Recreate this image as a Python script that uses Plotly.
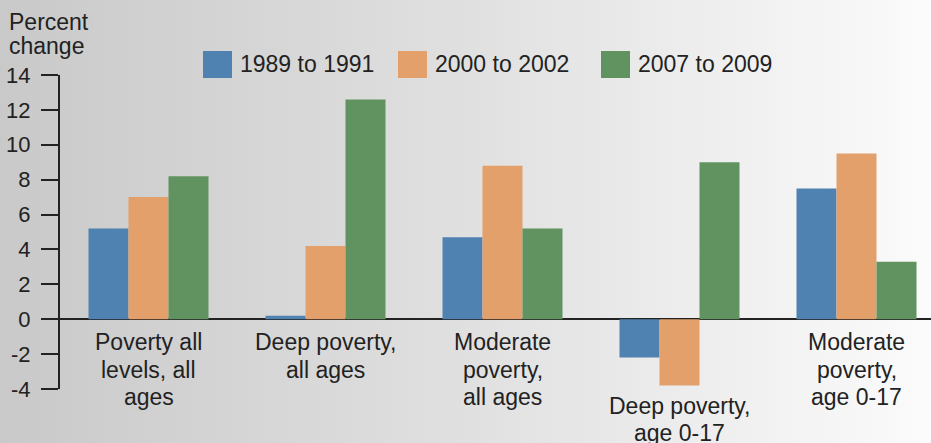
import base64
import plotly.graph_objects as go

categories = ["Poverty all levels, all ages", "Deep poverty, all ages",
              "Moderate poverty, all ages", "Deep poverty, age 0-17",
              "Moderate poverty, age 0-17"]
category_labels = ["Poverty all<br>levels, all<br>ages", "Deep poverty,<br>all ages",
                   "Moderate<br>poverty,<br>all ages", "Deep poverty,<br>age 0-17",
                   "Moderate<br>poverty,<br>age 0-17"]
series_names = ["1989 to 1991", "2000 to 2002", "2007 to 2009"]
v_1989_1991 = [5.2, 0.2, 4.7, -2.2, 7.5]
v_2000_2002 = [7.0, 4.2, 8.8, -3.8, 9.5]
v_2007_2009 = [8.2, 12.6, 5.2, 9.0, 3.3]
y_ticks = [-4, -2, 0, 2, 4, 6, 8, 10, 12, 14]
y_tick_labels = ["-4", "-2", "0", "2", "4", "6", "8", "10", "12", "14"]
y_title = "Percent<br>change"

colors = ["#4f82b1", "#e3a06a", "#619361"]
W, H = 931, 443
L, R, T, B = 60, 0, 75, 54
pw, ph = W - L - R, H - T - B
FONT = "Liberation Sans, Arial, sans-serif"
TXT = "#222222"
Y0, Y1 = -4, 14
LINE = 27.5

def px_x(x):
    return (x - L) / pw

def px_y(y):
    return (H - B - y) / ph

def val_to_px(v):
    return T + (Y1 - v) / (Y1 - Y0) * ph

fig = go.Figure()
for name, vals, c in zip(series_names, [v_1989_1991, v_2000_2002, v_2007_2009], colors):
    fig.add_trace(go.Bar(x=categories, y=vals, name=name, marker=dict(color=c, line=dict(width=0)),
                         showlegend=False))

# background gradient
svg = ('<svg xmlns="http://www.w3.org/2000/svg" width="931" height="443" viewBox="0 0 931 443" preserveAspectRatio="none">'
       '<defs><linearGradient id="g" x1="0" y1="0" x2="1" y2="0">'
       '<stop offset="0" stop-color="#c9c9c9"/><stop offset="0.5" stop-color="#e0e0e0"/>'
       '<stop offset="1" stop-color="#fbfbfb"/></linearGradient></defs>'
       '<rect width="931" height="443" fill="url(#g)"/></svg>')
src = "data:image/svg+xml;base64," + base64.b64encode(svg.encode()).decode()

annotations = []
shapes = []
# category labels (one annotation per line for tight line spacing)
for i, (cat, lab) in enumerate(zip(categories, category_labels)):
    neg = min(v_1989_1991[i], v_2000_2002[i], v_2007_2009[i])
    first = val_to_px(0) + 23 if neg >= 0 else val_to_px(neg) + 20
    for j, line in enumerate(lab.split("<br>")):
        annotations.append(dict(x=cat, y=px_y(first + j * LINE), xref="x", yref="paper", text=line,
                                showarrow=False, yanchor="middle", xanchor="center",
                                font=dict(family=FONT, size=23, color=TXT)))
# y title
for j, line in enumerate(y_title.split("<br>")):
    annotations.append(dict(x=px_x(7), y=px_y(22 + j * 24), xref="paper", yref="paper", text=line,
                            showarrow=False, xanchor="left", yanchor="middle",
                            font=dict(family=FONT, size=23, color=TXT)))
# manual legend
leg_x = [203, 398, 601]
for name, c, lx in zip(series_names, colors, leg_x):
    shapes.append(dict(type="rect", xref="paper", yref="paper", x0=px_x(lx), x1=px_x(lx + 29),
                       y0=px_y(78), y1=px_y(51), fillcolor=c, line=dict(width=0)))
    annotations.append(dict(x=px_x(lx + 35), y=px_y(64.5), xref="paper", yref="paper", text=name,
                            showarrow=False, xanchor="left", yanchor="middle",
                            font=dict(family=FONT, size=23, color=TXT)))

fig.update_layout(
    width=W, height=H, margin=dict(l=L, r=R, t=T, b=B),
    paper_bgcolor="rgba(0,0,0,0)", plot_bgcolor="rgba(0,0,0,0)",
    barmode="group", bargap=0.322, bargroupgap=0,
    images=[dict(source=src, xref="paper", yref="paper", x=px_x(0), y=px_y(0),
                 sizex=W / pw, sizey=H / ph, xanchor="left", yanchor="top",
                 sizing="stretch", layer="below")],
    annotations=annotations, shapes=shapes,
    xaxis=dict(range=[-0.5, -0.5 + pw / 177.0], showticklabels=False, showgrid=False,
               zeroline=False, showline=False, ticks=""),
    yaxis=dict(range=[Y0, Y1], tickvals=y_ticks, ticktext=y_tick_labels, showgrid=False,
               zeroline=True, zerolinecolor=TXT, zerolinewidth=2, showline=True,
               linecolor=TXT, linewidth=2,
               ticks="outside", ticklen=17, tickwidth=1.5, tickcolor=TXT,
               ticklabelstandoff=6,
               tickfont=dict(family=FONT, size=22, color=TXT)),
)
fig.write_html("out.html", config={"displayModeBar": False},
               post_script="document.body.style.margin='0';document.body.style.padding='0';")
